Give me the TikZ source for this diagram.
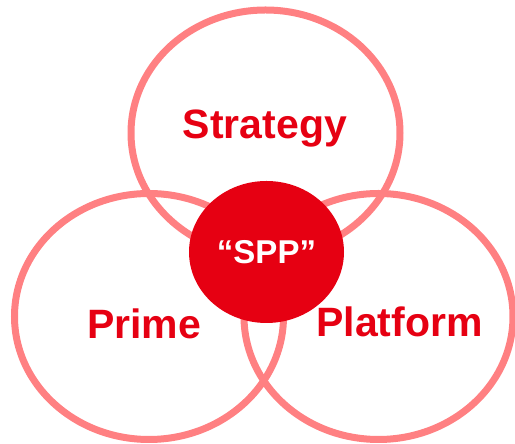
\documentclass[tikz,border=0pt]{standalone}
\usepackage{fontspec}
\setmainfont{Liberation Sans}
\usepackage{xcolor}
\usepackage{tikz}
\usetikzlibrary{shapes.geometric}

\definecolor{sppred}{HTML}{E60012}
\definecolor{ringpink}{HTML}{FF8082}

\begin{document}
\begin{tikzpicture}[
  x=1pt, y=1pt,
  ring/.style={draw=ringpink, line width=7pt, ellipse, inner sep=0pt, minimum width=269pt, minimum height=246pt},
  label/.style={text=sppred, font=\fontsize{41}{41}\selectfont\bfseries},
  core/.style={fill=sppred, ellipse, inner sep=0pt, minimum width=155pt, minimum height=142pt,
    text=white, font=\fontsize{33}{33}\selectfont\bfseries}
]
\useasboundingbox (0,0) rectangle (515,444);

% Rings
\node[ring] (strategyring) at (265.5,311) {};
\node[ring] (primering) at (149,127.5) {};
\node[ring] (platformring) at (378.5,127.5) {};

% Labels
\node[label] (strategy) at (265,315) {Strategy};
\node[label] (prime) at (144,120) {Prime};
\node[label] (platform) at (399.5,122) {Platform};

% Centre
\node[core] (spp) at (266.5,192) {“SPP”};

\end{tikzpicture}
\end{document}
